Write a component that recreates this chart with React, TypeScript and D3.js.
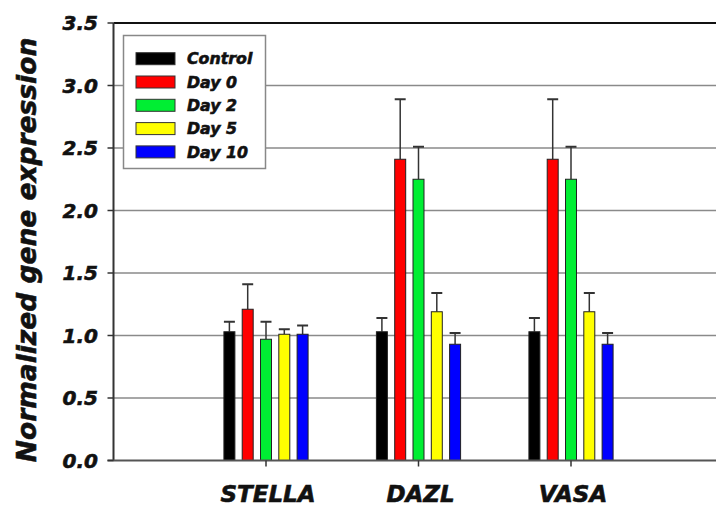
import React from "react";
import * as d3 from "d3";

const genes = ["STELLA", "DAZL", "VASA"];
const seriesNames = ["Control", "Day 0", "Day 2", "Day 5", "Day 10"];
const seriesColors = ["#000000", "#ff0000", "#00ee33", "#ffff00", "#0000ff"];
// values[series][gene]
const means = [
  [1.03, 1.03, 1.03],
  [1.21, 2.41, 2.41],
  [0.97, 2.25, 2.25],
  [1.01, 1.19, 1.19],
  [1.01, 0.93, 0.93],
];
const errs = [
  [0.08, 0.11, 0.11],
  [0.2, 0.48, 0.48],
  [0.14, 0.26, 0.26],
  [0.04, 0.15, 0.15],
  [0.07, 0.09, 0.09],
];
const yTicks = [0, 0.5, 1, 1.5, 2, 2.5, 3, 3.5];

const W = 716;
const H = 509;
const FONT = "'DejaVu Sans', sans-serif";

const textStyle = {
  fontFamily: FONT,
  fontWeight: "bold" as const,
  fontStyle: "italic" as const,
  fill: "#111",
  stroke: "#111",
  strokeWidth: 0.6,
};

export default function App() {
  const x = d3.scaleLinear().domain([0, 4]).range([113.5, 723.5]);
  const y = d3.scaleLinear().domain([0, 3.5]).range([460.5, 23]);
  const pitch = 0.12;
  const bw = x(0.072) - x(0);
  const left = x(0);

  return (
    <svg
      width={W}
      height={H}
      style={{ position: "absolute", left: 0, top: 0, background: "#fff" }}
    >
      {/* gridlines */}
      {yTicks.slice(1, -1).map((t) => (
        <line
          key={"g" + t}
          x1={left}
          x2={W}
          y1={y(t)}
          y2={y(t)}
          stroke="#8a8a8a"
          strokeWidth={1.5}
        />
      ))}
      <line x1={left} x2={W} y1={y(3.5)} y2={y(3.5)} stroke="#111" strokeWidth={2} />

      {/* bars */}
      {seriesNames.map((s, si) =>
        genes.map((g, gi) => {
          const cx = x(gi + 1) + (si - 2) * (x(pitch) - x(0));
          const v = means[si][gi];
          const e = errs[si][gi];
          return (
            <g key={s + g}>
              <line
                x1={cx}
                x2={cx}
                y1={y(v)}
                y2={y(v + e)}
                stroke="#333"
                strokeWidth={1.5}
              />
              <line
                x1={cx - bw / 2}
                x2={cx + bw / 2}
                y1={y(v + e)}
                y2={y(v + e)}
                stroke="#333"
                strokeWidth={2}
              />
              <rect
                x={cx - bw / 2}
                y={y(v)}
                width={bw}
                height={y(0) - y(v)}
                fill={seriesColors[si]}
                stroke="#222"
                strokeWidth={1}
              />
            </g>
          );
        })
      )}

      {/* axes */}
      <line x1={left} x2={left} y1={y(0)} y2={y(3.5)} stroke="#333" strokeWidth={2} />
      <line x1={left - 6} x2={W} y1={y(0)} y2={y(0)} stroke="#555" strokeWidth={2} />
      {yTicks.map((t) => (
        <g key={"t" + t}>
          <line x1={left - 6} x2={left} y1={y(t)} y2={y(t)} stroke="#333" strokeWidth={1.5} />
          <text x={98} y={y(t)} dy="0.36em" textAnchor="end" fontSize={20} {...textStyle}>
            {t.toFixed(1)}
          </text>
        </g>
      ))}
      {genes.map((g, gi) => (
        <g key={"x" + g}>
          <line x1={x(gi + 1)} x2={x(gi + 1)} y1={y(0)} y2={y(0) + 6} stroke="#333" strokeWidth={1.5} />
          <text x={x(gi + 1) + 2} y={502} textAnchor="middle" fontSize={23} {...textStyle}>
            {g}
          </text>
        </g>
      ))}
      <text
        transform={`translate(36,250) rotate(-90)`}
        textAnchor="middle"
        fontSize={26.5}
        {...textStyle}
      >
        Normalized gene expression
      </text>

      {/* legend */}
      <rect x={123.5} y={35.5} width={142} height={133} fill="#fff" stroke="#888" strokeWidth={1.5} />
      {seriesNames.map((s, si) => {
        const cy = 58.7 + si * 23.3;
        return (
          <g key={"l" + s}>
            <rect
              x={136}
              y={cy - 6}
              width={39}
              height={12}
              fill={seriesColors[si]}
              stroke="#333"
              strokeWidth={1}
            />
            <text x={187} y={cy} dy="0.36em" fontSize={15.8} {...textStyle}>
              {s}
            </text>
          </g>
        );
      })}
    </svg>
  );
}
